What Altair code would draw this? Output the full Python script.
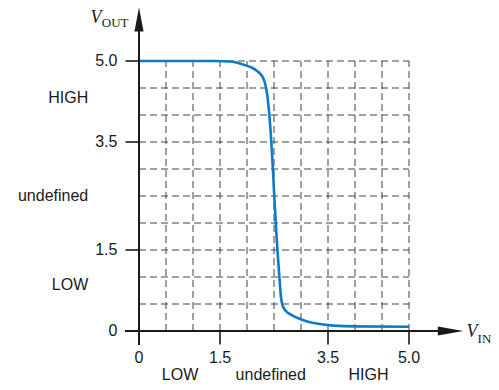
import altair as alt
import pandas as pd

# ---- data ----
curve_x = [0.0, 1.0, 1.4, 1.69, 1.85, 2.0, 2.1, 2.18, 2.25, 2.30, 2.35, 2.40, 2.44, 2.47,
           2.50, 2.53, 2.56, 2.60, 2.63, 2.66, 2.72, 2.82, 2.94, 3.1, 3.29, 3.6, 4.0, 5.0]
curve_y = [5.0, 5.0, 5.0, 4.99, 4.96, 4.91, 4.87, 4.82, 4.76, 4.68, 4.52, 4.15, 3.66, 3.17,
           2.6, 2.05, 1.55, 1.0, 0.62, 0.47, 0.37, 0.3, 0.24, 0.18, 0.14, 0.1, 0.085, 0.08]

grid_values = [0.5, 1.0, 1.5, 2.0, 2.5, 3.0, 3.5, 4.0, 4.5, 5.0]
tick_values = [0.0, 1.5, 3.5, 5.0]
tick_labels = ["0", "1.5", "3.5", "5.0"]

x_zone_labels = ["LOW", "undefined", "HIGH"]
x_zone_pos = [0.76, 2.44, 4.25]
y_zone_labels = ["HIGH", "undefined", "LOW"]
y_zone_pos = [4.32, 2.5, 0.85]

AXIS_END = 5.6
ARROW_CENTER = 5.77

xs = alt.Scale(domain=[0, 5], nice=False, zero=False)
ys = alt.Scale(domain=[0, 5], nice=False, zero=False)


def X(f, **kw):
    return alt.X(f, type="quantitative", scale=xs, axis=None, **kw)


def Y(f, **kw):
    return alt.Y(f, type="quantitative", scale=ys, axis=None, **kw)


GRID = "#454545"
grid_df = pd.DataFrame({"v": grid_values, "lo": 0.0})
hgrid = alt.Chart(grid_df).mark_rule(color=GRID, strokeWidth=1, strokeDash=[7, 4]).encode(
    y=Y("v"), x=X("lo"), x2=alt.datum(5.0))
vgrid = alt.Chart(grid_df).mark_rule(color=GRID, strokeWidth=1, strokeDash=[7, 4]).encode(
    x=X("v"), y=Y("lo"), y2=alt.datum(5.0))

curve_df = pd.DataFrame({"x": curve_x, "y": curve_y})
curve = alt.Chart(curve_df).mark_line(color="#0f7bc4", strokeWidth=2.6, interpolate="monotone").encode(
    x=X("x"), y=Y("y"))

axes_df = pd.DataFrame({"a": [-0.26], "b": [AXIS_END], "z": [0.0]})
xaxis = alt.Chart(axes_df).mark_rule(color="#1a1a1a", strokeWidth=2).encode(
    x=X("a"), x2="b", y=Y("z"))
yaxis = alt.Chart(axes_df).mark_rule(color="#1a1a1a", strokeWidth=2).encode(
    y=Y("a"), y2="b", x=X("z"))

ticks_df = pd.DataFrame({"v": tick_values[1:], "lo": -0.25, "hi": 0.0})
xticks = alt.Chart(ticks_df).mark_rule(color="#1a1a1a", strokeWidth=1.6).encode(
    x=X("v"), y=Y("lo"), y2="hi")
yticks = alt.Chart(ticks_df).mark_rule(color="#1a1a1a", strokeWidth=1.6).encode(
    y=Y("v"), x=X("lo"), x2="hi")

arrow_df = pd.DataFrame({"c": [ARROW_CENTER], "z": [0.0]})
xarrow = alt.Chart(arrow_df).mark_point(
    shape="M-1,-0.36L1,0L-1,0.36Z", filled=True, color="#1a1a1a", opacity=1, size=650).encode(
    x=X("c"), y=Y("z"))
yarrow = alt.Chart(arrow_df).mark_point(
    shape="M-0.38,1L0,-1L0.38,1Z", filled=True, color="#1a1a1a", opacity=1, size=576).encode(
    y=Y("c"), x=X("z"))

font = "Liberation Sans"
tl_df = pd.DataFrame({"v": tick_values, "t": tick_labels, "xo": -0.4, "yo": -0.5})
xtl = alt.Chart(tl_df).mark_text(font=font, fontSize=16, color="#1a1a1a", align="center", baseline="middle").encode(
    x=X("v"), y=Y("yo"), text="t:N")
ytl = alt.Chart(tl_df).mark_text(font=font, fontSize=16, color="#1a1a1a", align="right", baseline="middle").encode(
    y=Y("v"), x=X("xo"), text="t:N")

xz_df = pd.DataFrame({"v": x_zone_pos, "t": x_zone_labels, "yo": -0.82})
xzl = alt.Chart(xz_df).mark_text(font=font, fontSize=16, color="#1a1a1a", align="center", baseline="middle").encode(
    x=X("v"), y=Y("yo"), text="t:N")
yz_df = pd.DataFrame({"v": y_zone_pos, "t": y_zone_labels, "xo": -0.94})
yzl = alt.Chart(yz_df).mark_text(font=font, fontSize=16, color="#1a1a1a", align="right", baseline="middle").encode(
    y=Y("v"), x=X("xo"), text="t:N")

serif = "Liberation Serif"
vlab_df = pd.DataFrame({
    "t": ["V", "V"], "x": [-0.695, 6.27], "y": [5.70, -0.11]})
sub_df = pd.DataFrame({
    "t": ["OUT", "IN"], "x": [-0.69, 6.27], "y": [5.63, -0.22]})
vlab = alt.Chart(vlab_df).mark_text(font=serif, fontSize=18, fontStyle="italic", color="#1a1a1a",
                                    align="right", baseline="alphabetic").encode(
    x=X("x"), y=Y("y"), text="t:N")
sublab = alt.Chart(sub_df).mark_text(font=serif, fontSize=13, color="#1a1a1a",
                                     align="left", baseline="alphabetic").encode(
    x=X("x"), y=Y("y"), text="t:N")

chart = alt.layer(
    hgrid, vgrid, curve, xaxis, yaxis, xticks, yticks, xarrow, yarrow,
    xtl, ytl, xzl, yzl, vlab, sublab
).properties(
    width=270, height=270,
    autosize=alt.AutoSizeParams(type="none"),
    padding={"left": 131, "top": 53, "right": 82, "bottom": 51},
    background="white",
).configure_view(stroke=None)

chart.save("out.html", embed_options={"renderer": "svg", "actions": False})
